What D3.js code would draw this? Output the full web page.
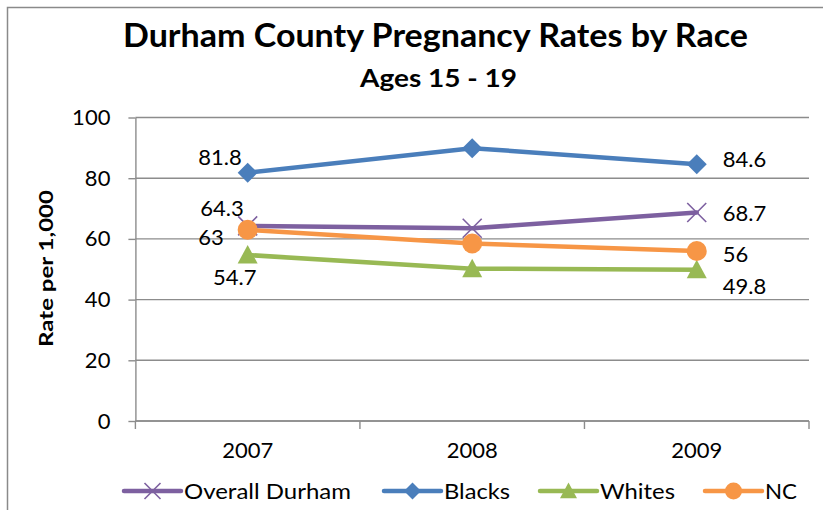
<!DOCTYPE html>
<html>
<head>
<meta charset="utf-8">
<script src="https://cdn.jsdelivr.net/npm/d3@7"></script>
<style>
  html, body { margin: 0; padding: 0; background: #fff; }
  svg { display: block; }
  text { font-family: Lato, "Open Sans", "Liberation Sans", sans-serif; fill: #000; }
</style>
</head>
<body>
<svg id="chart" width="823" height="510"></svg>
<script>
// Teen (15-19) pregnancy rates per 1,000, Durham County vs NC
const years = ["2007", "2008", "2009"];
const seriesNames = ["Overall Durham", "Blacks", "Whites", "NC"];
const overallDurham = [64.3, 63.5, 68.7];
const blacks = [81.8, 89.9, 84.6];
const whites = [54.7, 50.2, 49.8];
const nc = [63, 58.5, 56];
const yTicks = [0, 20, 40, 60, 80, 100];

const seriesValues = [overallDurham, blacks, whites, nc];
const colors = { "Overall Durham": "#7D60A0", "Blacks": "#4A7EBB", "Whites": "#98B954", "NC": "#F79646" };
const markers = { "Overall Durham": "x", "Blacks": "diamond", "Whites": "triangle", "NC": "circle" };

// Data labels are shown only on the first and last year
const labelOffsets = {
  "Overall Durham": { first: [-4, -10, "end"],   last: [26, 9, "start"] },
  "Blacks":         { first: [-6, -8, "end"],    last: [26, 2.5, "start"] },
  "Whites":         { first: [-13, 30, "middle"], last: [26, 24, "start"] },
  "NC":             { first: [-24, 15, "end"],   last: [26, 10.5, "start"] }
};

const bodyFont = 22;
const svg = d3.select("#chart");

// Outer chart frame
svg.append("path")
  .attr("d", "M7.5,510 V7.5 H823")
  .attr("fill", "none").attr("stroke", "#8a8a8a").attr("stroke-width", 1.5);

const plot = { left: 135.4, right: 809, top: 117.5, bottom: 421 };

const x = d3.scaleBand().domain(years).range([plot.left, plot.right]);
const y = d3.scaleLinear().domain([0, 100]).range([plot.bottom, plot.top]);

// Gridlines
svg.append("g").selectAll("line").data(yTicks).join("line")
  .attr("x1", plot.left).attr("x2", plot.right)
  .attr("y1", d => y(d)).attr("y2", d => y(d))
  .attr("stroke", "#8c8c8c").attr("stroke-width", 1.4);

// Y axis
const yAxis = svg.append("g")
  .attr("transform", `translate(${plot.left},0)`)
  .call(d3.axisLeft(y).tickValues(yTicks).tickSize(7).tickSizeOuter(0).tickPadding(18));
yAxis.select(".domain").attr("stroke", "#8c8c8c").attr("stroke-width", 1.4);
yAxis.selectAll(".tick line").attr("stroke", "#8c8c8c").attr("stroke-width", 1.4);
yAxis.selectAll("text").attr("font-size", bodyFont).attr("font-family", "Lato, sans-serif").attr("fill", "#000");

// X axis (labels centred in each band, tick marks on band boundaries)
const xAxis = svg.append("g")
  .attr("transform", `translate(0,${plot.bottom})`)
  .call(d3.axisBottom(x).tickSize(0).tickSizeOuter(0).tickPadding(21));
xAxis.select(".domain").remove();
xAxis.selectAll("text").attr("font-size", bodyFont).attr("font-family", "Lato, sans-serif").attr("fill", "#000");

const boundaries = years.map(d => x(d)).concat([x(years[years.length - 1]) + x.bandwidth()]);
svg.append("g").selectAll("line").data(boundaries).join("line")
  .attr("x1", d => d).attr("x2", d => d)
  .attr("y1", plot.bottom).attr("y2", plot.bottom + 8)
  .attr("stroke", "#8c8c8c").attr("stroke-width", 1.4);
svg.append("line")
  .attr("x1", plot.left).attr("x2", plot.right)
  .attr("y1", plot.bottom).attr("y2", plot.bottom)
  .attr("stroke", "#8c8c8c").attr("stroke-width", 1.4);

// Titles
svg.append("text").attr("x", 123).attr("y", 47)
  .attr("font-size", 33).attr("font-weight", "bold")
  .attr("textLength", 625).attr("lengthAdjust", "spacingAndGlyphs")
  .text("Durham County Pregnancy Rates by Race");
svg.append("text").attr("x", 360).attr("y", 87)
  .attr("font-size", 25).attr("font-weight", "bold")
  .attr("textLength", 157).attr("lengthAdjust", "spacingAndGlyphs")
  .text("Ages 15 - 19");
svg.append("text")
  .attr("transform", "translate(53,268.5) rotate(-90)")
  .attr("text-anchor", "middle")
  .attr("font-size", 19).attr("font-weight", "bold")
  .attr("textLength", 157).attr("lengthAdjust", "spacingAndGlyphs")
  .text("Rate per 1,000");

// Marker drawing helper
function drawMarker(g, type, cx, cy, color, s) {
  if (type === "diamond") {
    g.append("path").attr("d", `M${cx},${cy - s} L${cx + s},${cy} L${cx},${cy + s} L${cx - s},${cy} Z`)
      .attr("fill", color);
  } else if (type === "triangle") {
    g.append("path").attr("d", `M${cx},${cy - s} L${cx + s},${cy + s * 0.85} L${cx - s},${cy + s * 0.85} Z`)
      .attr("fill", color);
  } else if (type === "circle") {
    g.append("circle").attr("cx", cx).attr("cy", cy).attr("r", s).attr("fill", color);
  } else if (type === "x") {
    g.append("path").attr("d", `M${cx - s},${cy - s} L${cx + s},${cy + s} M${cx - s},${cy + s} L${cx + s},${cy - s}`)
      .attr("stroke", color).attr("stroke-width", 1.6).attr("fill", "none");
  }
}

const line = d3.line().x(d => x(d.year) + x.bandwidth() / 2).y(d => y(d.value));

seriesNames.forEach((name, i) => {
  const pts = years.map((yr, j) => ({ year: yr, value: seriesValues[i][j] }));
  const g = svg.append("g");
  g.append("path").datum(pts).attr("d", line)
    .attr("fill", "none").attr("stroke", colors[name]).attr("stroke-width", 4.5)
    .attr("stroke-linejoin", "round").attr("stroke-linecap", "round");
  pts.forEach(p => {
    const size = markers[name] === "x" ? 9.5 : 10;
    drawMarker(g, markers[name], x(p.year) + x.bandwidth() / 2, y(p.value), colors[name], size);
  });
});

// Data labels
seriesNames.forEach((name, i) => {
  const vals = seriesValues[i];
  [[0, "first"], [years.length - 1, "last"]].forEach(([j, key]) => {
    const [dx, dy, anchor] = labelOffsets[name][key];
    svg.append("text")
      .attr("x", x(years[j]) + x.bandwidth() / 2 + dx)
      .attr("y", y(vals[j]) + dy)
      .attr("text-anchor", anchor)
      .attr("font-size", bodyFont)
      .text(vals[j]);
  });
});

// Legend
const legendItems = [
  { name: "Overall Durham", x0: 124, x1: 181, tx: 184, tw: 167 },
  { name: "Blacks", x0: 384, x1: 441, tx: 444, tw: 66 },
  { name: "Whites", x0: 540, x1: 597, tx: 600, tw: 75 },
  { name: "NC", x0: 705, x1: 762, tx: 765, tw: 32 }
];
const ly = 491;
legendItems.forEach(it => {
  const g = svg.append("g");
  g.append("line").attr("x1", it.x0).attr("x2", it.x1).attr("y1", ly).attr("y2", ly)
    .attr("stroke", colors[it.name]).attr("stroke-width", 4.5).attr("stroke-linecap", "round");
  drawMarker(g, markers[it.name], (it.x0 + it.x1) / 2, ly, colors[it.name], markers[it.name] === "x" ? 8 : 8.5);
  g.append("text").attr("x", it.tx).attr("y", ly + 8)
    .attr("font-size", bodyFont)
    .attr("textLength", it.tw).attr("lengthAdjust", "spacingAndGlyphs")
    .text(it.name);
});
</script>
</body>
</html>
